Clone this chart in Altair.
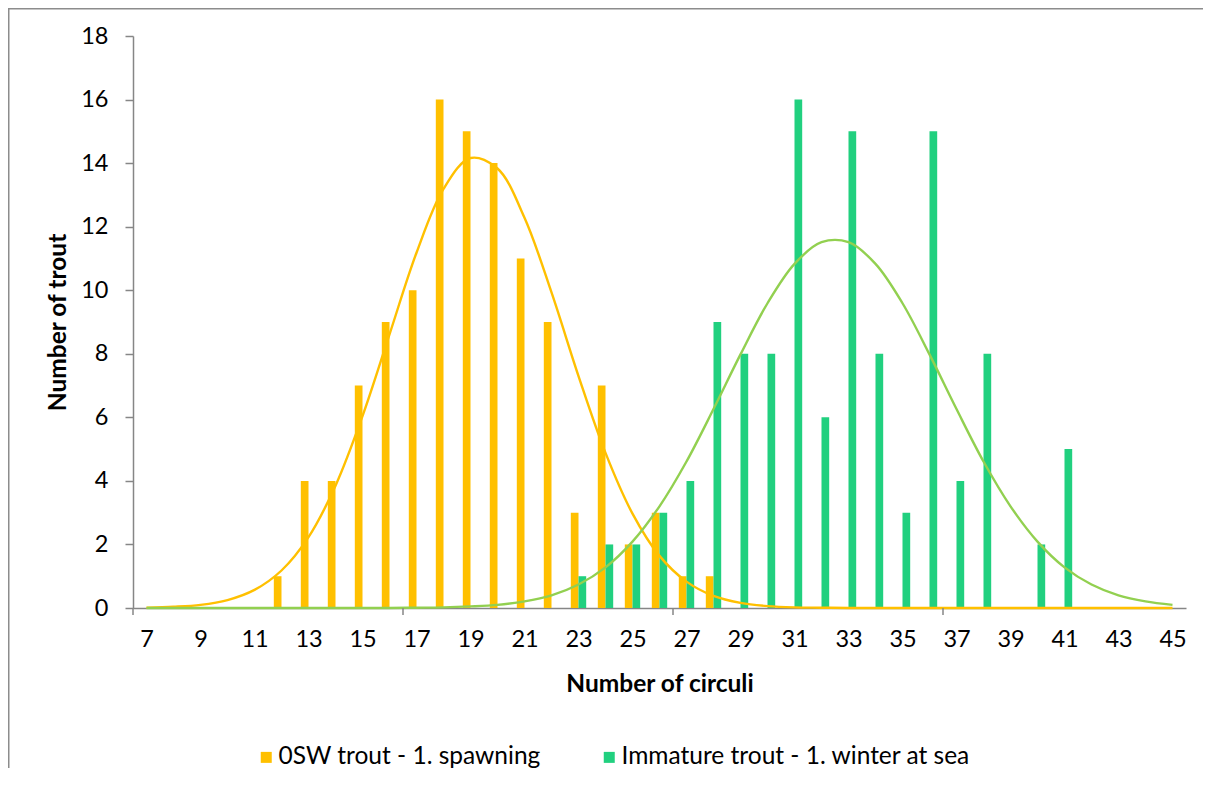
import altair as alt
import pandas as pd

# ---- data ----
circuli = list(range(7, 46))
osw_counts = [0, 0, 0, 0, 0, 1, 4, 4, 7, 9, 10, 16, 15, 14, 11, 9, 3, 7, 2, 3, 1, 1,
              0, 0, 0, 0, 0, 0, 0, 0, 0, 0, 0, 0, 0, 0, 0, 0, 0]
imm_counts = [0, 0, 0, 0, 0, 0, 0, 0, 0, 0, 0, 0, 0, 0, 0, 0, 1, 2, 2, 3, 4, 9,
              8, 8, 16, 6, 15, 8, 3, 15, 4, 8, 0, 2, 5, 0, 0, 0, 0]
# fitted normal curves as they appear in the chart (read at each category)
osw_curve = [0.01, 0.04, 0.10, 0.25, 0.57, 1.18, 2.23, 3.85, 6.04, 8.61, 11.18, 13.19,
             14.16, 13.83, 12.28, 9.93, 7.30, 4.88, 2.97, 1.64, 0.83, 0.38, 0.16, 0.06,
             0.02, 0.01, 0, 0, 0, 0, 0, 0, 0, 0, 0, 0, 0, 0, 0]
imm_curve = [0, 0, 0, 0, 0, 0, 0, 0, 0, 0, 0.01, 0.02, 0.05, 0.10, 0.21, 0.40, 0.74,
             1.28, 2.09, 3.20, 4.61, 6.26, 7.98, 9.59, 10.83, 11.51, 11.51, 10.83, 9.59,
             7.98, 6.26, 4.61, 3.20, 2.09, 1.28, 0.74, 0.40, 0.21, 0.10]
series_names = ["0SW trout - 1. spawning", "Immature trout - 1. winter at sea"]
x_labels = list(range(7, 46, 2))
x_tick_marks = [6.5, 16.5, 26.5, 36.5]
y_ticks = list(range(0, 19, 2))

bar_df = pd.DataFrame({
    "circuli": circuli * 2,
    "series": [series_names[0]] * len(circuli) + [series_names[1]] * len(circuli),
    "count": osw_counts + imm_counts,
})
bar_df = bar_df[bar_df["count"] > 0]
curve_osw = pd.DataFrame({"circuli": circuli, "fit": osw_curve})
curve_imm = pd.DataFrame({"circuli": circuli, "fit": imm_curve})
tick_df = pd.DataFrame({"t": x_tick_marks})
one = pd.DataFrame({"a": [0]})

W, H = 1053, 572
PAD_BOTTOM = 160
PAD_RIGHT = 17
FONT = "Lato"
AXIS_GREY = "#868686"
FRAME_GREY = "#8c8c8c"

xscale = alt.Scale(domain=[6.5, 45.5], nice=False, zero=False)
yscale = alt.Scale(domain=[0, 18], nice=False)

x_axis = alt.Axis(values=x_labels, ticks=False, tickSize=0, grid=False, labelPadding=19,
                  labelFontSize=23.5, labelFont=FONT, labelColor="#000000",
                  domainColor=AXIS_GREY, domainWidth=1.5,
                  title="Number of circuli", titleFont=FONT, titleFontSize=24.5,
                  titleFontWeight="bold", titleColor="#000000",
                  titleX=W / 2, titleY=76, titleBaseline="middle")
y_axis = alt.Axis(values=y_ticks, grid=False, tickSize=8, tickColor=AXIS_GREY, tickWidth=1.5,
                  labelPadding=17, labelFontSize=23.5, labelFont=FONT, labelColor="#000000",
                  domainColor=AXIS_GREY, domainWidth=1.5,
                  title="Number of trout", titleFont=FONT, titleFontSize=24.5,
                  titleFontWeight="bold", titleColor="#000000",
                  titleX=-75, titleY=H / 2, titleAngle=-90, titleAlign="center",
                  titleBaseline="middle")

bars = alt.Chart(bar_df).transform_calculate(
    x0="datum.series === '" + series_names[0] + "' ? datum.circuli - 0.285 : datum.circuli",
    x1="datum.series === '" + series_names[0] + "' ? datum.circuli : datum.circuli + 0.285",
).mark_bar().encode(
    x=alt.X("x0:Q", scale=xscale, axis=x_axis),
    x2="x1:Q",
    y=alt.Y("count:Q", scale=yscale, axis=y_axis),
    y2=alt.datum(0),
    color=alt.Color("series:N",
                    scale=alt.Scale(domain=series_names, range=["#FFC000", "#21D07F"]),
                    legend=alt.Legend(title=None, orient="none", legendX=121, legendY=709,
                                      direction="horizontal", columns=2, symbolType="square",
                                      symbolSize=121, symbolStrokeWidth=0, labelFont=FONT,
                                      labelFontSize=24.5, labelColor="#000000", labelOffset=0,
                                      labelLimit=0, columnPadding=56, padding=0)),
)

line_imm = alt.Chart(curve_imm).mark_line(color="#92D050", strokeWidth=2.4,
                                          interpolate="catmull-rom").encode(
    x=alt.X("circuli:Q", scale=xscale), y=alt.Y("fit:Q", scale=yscale))
line_osw = alt.Chart(curve_osw).mark_line(color="#FFC000", strokeWidth=2.4,
                                          interpolate="catmull-rom").encode(
    x=alt.X("circuli:Q", scale=xscale), y=alt.Y("fit:Q", scale=yscale))

ticks = alt.Chart(tick_df).mark_rule(color=AXIS_GREY, strokeWidth=1.5).encode(
    x=alt.X("t:Q", scale=xscale), y=alt.value(H), y2=alt.value(H + 7))

# chart frame (top and left edges only are visible in the reference)
border_top = alt.Chart(one).mark_rect(color=FRAME_GREY).encode(
    x=alt.value(-125), x2=alt.value(W + PAD_RIGHT),
    y=alt.value(-28), y2=alt.value(-26.5))
border_left = alt.Chart(one).mark_rect(color=FRAME_GREY).encode(
    x=alt.value(-125), x2=alt.value(-123.5),
    y=alt.value(-28), y2=alt.value(H + PAD_BOTTOM))

chart = alt.layer(border_top, border_left, bars, line_osw, line_imm, ticks).properties(
    width=W, height=H,
    autosize=alt.AutoSizeParams(type="none"),
    padding={"left": 125, "top": 28, "right": PAD_RIGHT, "bottom": PAD_BOTTOM},
    background="white",
).configure_view(stroke=None)

chart.save("out.html", embed_options={"renderer": "svg", "actions": False})
